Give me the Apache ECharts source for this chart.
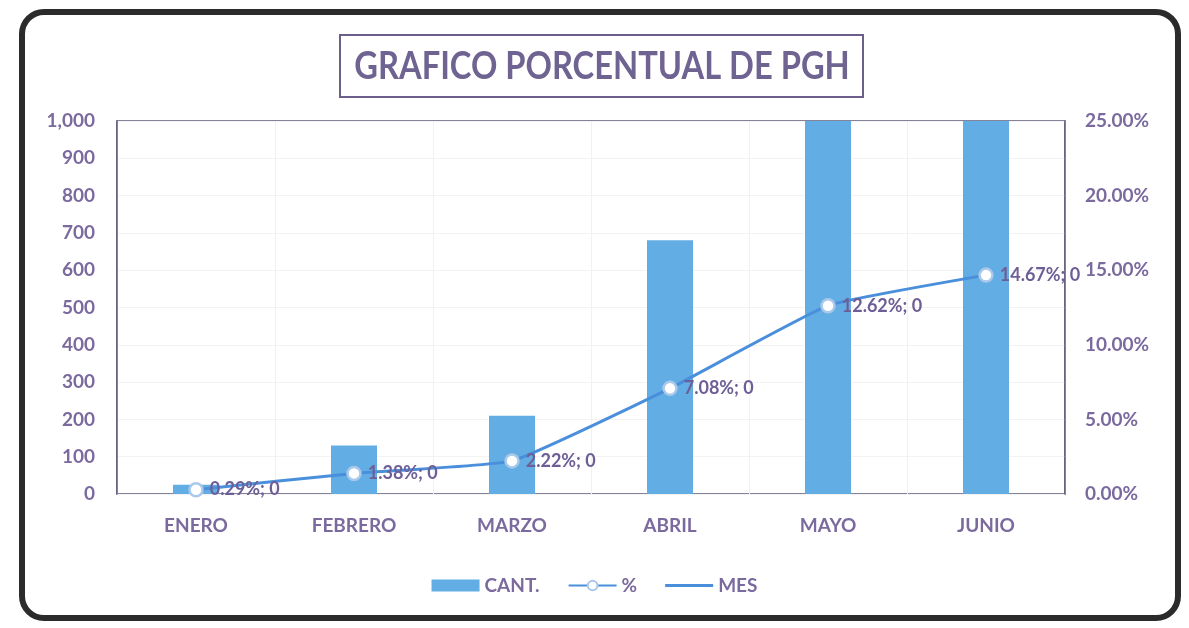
<!DOCTYPE html>
<html>
<head>
    <meta charset="utf-8">
    <title>GRAFICO PORCENTUAL DE PGH</title>
    <script src="https://cdn.jsdelivr.net/npm/echarts@6/dist/echarts.min.js"></script>
    <style type="text/css">
        * { margin: 0; padding: 0; }
        body { background: #ffffff; }
    </style>
</head>
<body>
<div id="main" style="width: 1189px; height: 628px;"></div>
<script type="text/javascript">
    // datos
    var meses = ['ENERO', 'FEBRERO', 'MARZO', 'ABRIL', 'MAYO', 'JUNIO'];
    var cantidad = [25, 130, 210, 680, 1150, 1280];
    var porcentaje = [0.29, 1.38, 2.22, 7.08, 12.62, 14.67];
    var mes = [];          // serie MES: solo aparece en la leyenda
    var ticksIzq = [0, 100, 200, 300, 400, 500, 600, 700, 800, 900, 1000];
    var ticksDer = [0, 5, 10, 15, 20, 25];

    var morado = '#7A6A9E';
    var fuente = 'Lato';

    var myChart = echarts.init(document.getElementById('main'));

    var option = {
        textStyle: { fontFamily: fuente },
        graphic: [
            {
                // marco redondeado del grafico
                type: 'rect',
                shape: { x: 22, y: 12, width: 1156, height: 606, r: 22 },
                style: { fill: 'none', stroke: '#2b2b2b', lineWidth: 6 },
                z: 10
            },
            {
                // recuadro del titulo
                type: 'rect',
                shape: { x: 340, y: 35, width: 523, height: 62 },
                style: { fill: '#ffffff', stroke: '#6d5f8c', lineWidth: 2 },
                z: 1
            },
            {
                type: 'text',
                x: 602, y: 67,
                scaleX: 0.86,
                style: {
                    text: 'GRAFICO PORCENTUAL DE PGH',
                    fill: '#6f6391',
                    font: 'bold 38px Lato',
                    align: 'center',
                    verticalAlign: 'middle'
                },
                z: 2
            }
        ],
        legend: {
            bottom: 28,
            left: 'center',
            itemGap: 28,
            itemWidth: 48,
            itemHeight: 12,
            textStyle: { color: morado, fontSize: 19, fontWeight: 'bold', fontFamily: fuente },
            data: [
                { name: 'CANT.', icon: 'rect' },
                { name: '%' },
                { name: 'MES', icon: 'path://M0,0 H160 V10 H0 Z', itemStyle: { color: '#4a8fdc' } }
            ]
        },
        grid: {
            left: 117,
            right: 124,
            top: 121,
            bottom: 134,
            show: true,
            borderColor: '#5f5a78',
            borderWidth: 1.5
        },
        xAxis: {
            type: 'category',
            data: meses,
            axisTick: { show: false },
            axisLine: { show: false },
            splitLine: { show: true, lineStyle: { color: '#f1f1f1' } },
            axisLabel: {
                color: morado,
                fontSize: 19,
                fontWeight: 'bold',
                margin: 22
            }
        },
        yAxis: [
            {
                type: 'value',
                min: ticksIzq[0],
                max: ticksIzq[ticksIzq.length - 1],
                interval: 100,
                axisLine: { show: true, lineStyle: { color: '#5f5a78', width: 1.5 } },
                axisTick: { show: false },
                splitLine: { show: true, lineStyle: { color: '#f3f3f3' } },
                axisLabel: {
                    color: morado,
                    fontSize: 19,
                    fontWeight: 'bold',
                    margin: 22,
                    formatter: function (v) {
                        return v.toLocaleString('en-US');
                    }
                }
            },
            {
                type: 'value',
                min: ticksDer[0],
                max: ticksDer[ticksDer.length - 1],
                interval: 5,
                axisLine: { show: true, lineStyle: { color: '#5f5a78', width: 1.5 } },
                axisTick: { show: false },
                splitLine: { show: false },
                axisLabel: {
                    color: morado,
                    fontSize: 19,
                    fontWeight: 'bold',
                    margin: 20,
                    formatter: function (v) {
                        return v.toFixed(2) + '%';
                    }
                }
            }
        ],
        series: [
            {
                name: 'CANT.',
                type: 'bar',
                yAxisIndex: 0,
                barWidth: 46,
                clip: true,
                itemStyle: { color: '#62ade3' },
                data: cantidad
            },
            {
                name: '%',
                type: 'line',
                yAxisIndex: 1,
                smooth: 0.12,
                symbol: 'circle',
                symbolSize: 13,
                lineStyle: { color: '#4a8fdc', width: 3 },
                itemStyle: { color: '#ffffff', borderColor: '#a9c8ea', borderWidth: 2.5 },
                label: {
                    show: true,
                    position: 'right',
                    distance: 6,
                    color: '#6e5e96',
                    fontSize: 18,
                    fontWeight: 'bold',
                    fontFamily: fuente,
                    formatter: function (p) {
                        return p.value.toFixed(2) + '%; 0';
                    }
                },
                data: porcentaje,
                z: 5
            },
            {
                name: 'MES',
                type: 'line',
                yAxisIndex: 1,
                symbol: 'none',
                lineStyle: { color: '#4a8fdc', width: 3 },
                itemStyle: { color: '#4a8fdc' },
                data: mes
            }
        ]
    };

    myChart.setOption(option);

    window.addEventListener('resize', function () {
        myChart.resize();
    });
</script>
</body>
</html>
